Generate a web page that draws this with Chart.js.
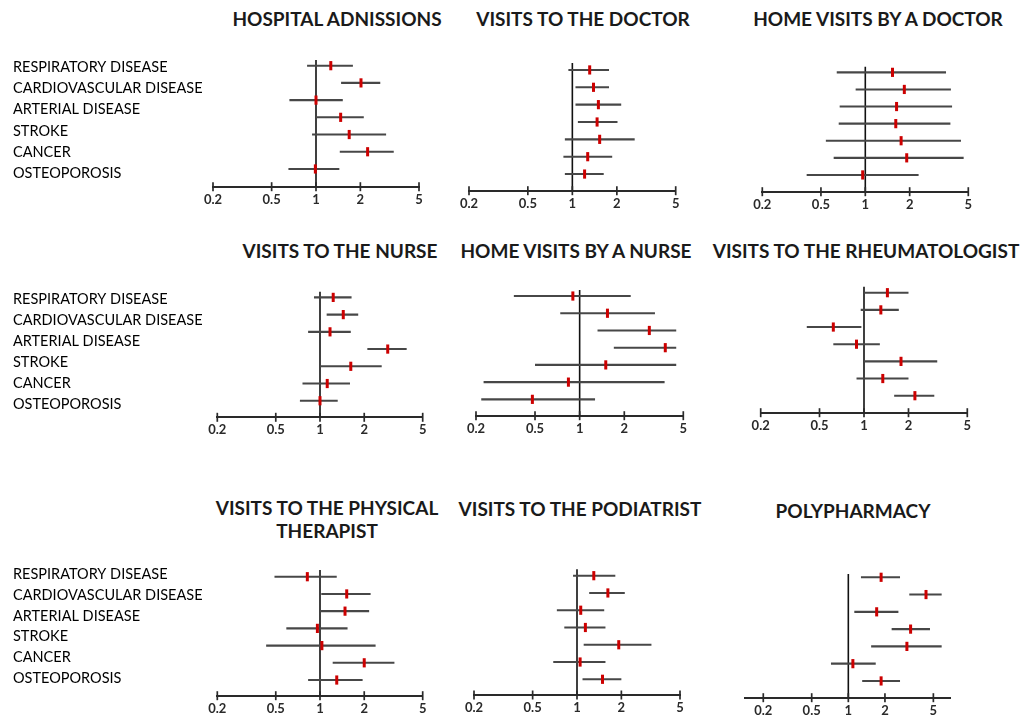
<!DOCTYPE html>
<html><head><meta charset="utf-8">
<script src="https://cdn.jsdelivr.net/npm/chart.js@4/dist/chart.umd.min.js"></script>
<style>
html,body{margin:0;padding:0;background:#fff;}
body{width:1024px;height:716px;position:relative;overflow:hidden;}
.t{position:absolute;width:360px;text-align:center;font-family:Lato,sans-serif;font-weight:bold;font-size:19px;color:#1a1a1a;line-height:23px;white-space:nowrap;}
canvas{position:absolute;}
</style></head><body>
<script>
// ---- categories / ticks / titles ----
const rowLabels = ['RESPIRATORY DISEASE','CARDIOVASCULAR DISEASE','ARTERIAL DISEASE','STROKE','CANCER','OSTEOPOROSIS'];
const tickValues = [0.2, 0.5, 1, 2, 5];
const tickLabels = ['0.2','0.5','1','2','5'];
const panelTitles = ['HOSPITAL ADNISSIONS','VISITS TO THE DOCTOR','HOME VISITS BY A DOCTOR',
  'VISITS TO THE NURSE','HOME VISITS BY A NURSE','VISITS TO THE RHEUMATOLOGIST',
  'VISITS TO THE PHYSICAL<br>THERAPIST','VISITS TO THE PODIATRIST','POLYPHARMACY'];

// ---- series values (estimate, lower, upper) ----
const hospitalEst = [1.26, 2.02, 1.00, 1.47, 1.68, 2.24, 0.99];
const hospitalLo  = [0.87, 1.48, 0.66, 1.00, 0.94, 1.45, 0.65];
const hospitalHi  = [1.78, 2.73, 1.52, 2.11, 2.99, 3.37, 1.44];

const doctorEst = [1.31, 1.39, 1.50, 1.47, 1.53, 1.27, 1.21];
const doctorLo  = [0.94, 1.05, 1.05, 1.09, 0.89, 0.87, 0.89];
const doctorHi  = [1.77, 1.77, 2.14, 2.02, 2.64, 1.86, 1.63];

const homeDoctorEst = [1.53, 1.84, 1.63, 1.61, 1.75, 1.91, 0.96];
const homeDoctorLo  = [0.64, 0.86, 0.67, 0.66, 0.54, 0.61, 0.40];
const homeDoctorHi  = [3.53, 3.81, 3.88, 3.78, 4.46, 4.65, 2.30];

const nurseEst = [1.23, 1.44, 1.17, 2.89, 1.62, 1.12, 1.00];
const nurseLo  = [0.91, 1.11, 0.83, 2.10, 1.00, 0.76, 0.73];
const nurseHi  = [1.64, 1.82, 1.62, 3.89, 2.63, 1.60, 1.32];

const homeNurseEst = [0.90, 1.54, 2.95, 3.78, 1.50, 0.84, 0.48];
const homeNurseLo  = [0.36, 0.74, 1.32, 1.70, 0.50, 0.225, 0.217];
const homeNurseHi  = [2.21, 3.22, 4.48, 4.48, 4.48, 3.74, 1.27];

const rheumEst = [1.44, 1.30, 0.62, 0.89, 1.78, 1.34, 2.21];
const rheumLo  = [1.00, 0.95, 0.41, 0.62, 1.00, 0.89, 1.60];
const rheumHi  = [2.00, 1.72, 0.96, 1.28, 3.13, 2.00, 2.99];

const physioEst = [0.82, 1.52, 1.48, 0.96, 1.03, 2.00, 1.30];
const physioLo  = [0.49, 1.02, 1.00, 0.59, 0.43, 1.22, 0.83];
const physioHi  = [1.30, 2.21, 2.16, 1.54, 2.39, 3.21, 1.95];

const podiatristEst = [1.30, 1.62, 1.06, 1.14, 1.92, 1.05, 1.49];
const podiatristLo  = [0.94, 1.21, 0.73, 0.82, 1.11, 0.69, 1.09];
const podiatristHi  = [1.82, 2.11, 1.53, 1.56, 3.20, 1.56, 2.00];

const polyEst = [1.86, 4.35, 1.71, 3.25, 3.03, 1.09, 1.86];
const polyLo  = [1.27, 3.17, 1.12, 2.27, 1.54, 0.72, 1.30];
const polyHi  = [2.66, 5.85, 2.58, 4.69, 5.85, 1.68, 2.66];

const panelData = [
  [hospitalEst, hospitalLo, hospitalHi], [doctorEst, doctorLo, doctorHi], [homeDoctorEst, homeDoctorLo, homeDoctorHi],
  [nurseEst, nurseLo, nurseHi], [homeNurseEst, homeNurseLo, homeNurseHi], [rheumEst, rheumLo, rheumHi],
  [physioEst, physioLo, physioHi], [podiatristEst, podiatristLo, podiatristHi], [polyEst, polyLo, polyHi]
];

// ---- layout (plot-area boxes, y-extent, titles) ----
const layout = [
  {L:213,   R:419,   T:60,    B:186.7, ymin:0.67, ymax:8.03, xmin:0.2, xmax:5, labels:true, lo:-3,   tx:337, ty:18},
  {L:469,   R:675.7, T:63,    B:190.7, ymin:0.60, ymax:7.96, xmin:0.2, xmax:5, labels:false, tx:583, ty:18},
  {L:762.3, R:968.3, T:66.7,  B:191.7, ymin:0.67, ymax:7.98, xmin:0.2, xmax:5, labels:false, tx:878, ty:18},
  {L:217.3, R:422.7, T:291.7, B:417.3, ymin:0.67, ymax:7.96, xmin:0.2, xmax:5, labels:true, lo:-3,   tx:340, ty:250},
  {L:476,   R:683.3, T:290,   B:415.7, ymin:0.65, ymax:7.95, xmin:0.2, xmax:5, labels:false, tx:576, ty:250},
  {L:760.7, R:967.3, T:286.7, B:412.7, ymin:0.65, ymax:7.99, xmin:0.2, xmax:5, labels:false, tx:866, ty:250},
  {L:217.3, R:422.7, T:570,   B:695.7, ymin:0.61, ymax:7.91, xmin:0.2, xmax:5, labels:true, lo:-6.5, tx:327, ty:518.5},
  {L:474,   R:680,   T:569.3, B:695,   ymin:0.63, ymax:7.91, xmin:0.2, xmax:5, labels:false, tx:580, ty:508},
  {L:745,   R:950,   T:574,   B:697.7, ymin:0.81, ymax:7.97, xmin:0.1415, xmax:6.85, labels:false, tx:853, ty:510}
];

const AXIS_H = 22;

const crossTicks = {
  id: 'crossTicks',
  afterDraw(chart) {
    const s = chart.scales.x, c = chart.ctx;
    c.save();
    c.strokeStyle = '#2a2a2a';
    c.lineWidth = 1.7;
    s.ticks.forEach(t => {
      const px = s.getPixelForValue(t.value);
      c.beginPath();
      c.moveTo(px, s.top - 4.5);
      c.lineTo(px, s.top + 4.5);
      c.stroke();
    });
    c.restore();
  }
};

function makePanel(idx) {
  const lay = layout[idx];
  const [est, lo, hi] = panelData[idx];
  const cl = lay.labels ? 0 : Math.floor(lay.L) - 14;
  const ct = Math.floor(lay.T) - 10;
  const cw = Math.ceil(lay.R) + 14 - cl;
  const ch = Math.ceil(lay.B) + AXIS_H + 2 - ct;
  const cv = document.createElement('canvas');
  cv.width = cw; cv.height = ch;
  cv.style.left = cl + 'px'; cv.style.top = ct + 'px';
  cv.style.width = cw + 'px'; cv.style.height = ch + 'px';
  document.body.appendChild(cv);

  const datasets = [];
  datasets.push({
    data: est.map((v, k) => ({x: v, y: k + 1})),
    pointStyle: 'line', pointRotation: 90, pointRadius: 4.6, pointHoverRadius: 4.6,
    pointBorderWidth: 3, pointBorderColor: '#cc0000', pointBackgroundColor: '#cc0000',
    showLine: false, clip: false, xAxisID: 'x', yAxisID: 'y'
  });
  lo.forEach((v, k) => {
    datasets.push({
      data: [{x: v, y: k + 1}, {x: hi[k], y: k + 1}],
      showLine: true, borderColor: '#474747', borderWidth: 2.1,
      pointRadius: 0, pointHoverRadius: 0, clip: false, xAxisID: 'x', yAxisID: 'y'
    });
  });
  datasets.push({
    data: [{x: 1, y: lay.ymin}, {x: 1, y: lay.ymax}],
    showLine: true, borderColor: '#111', borderWidth: 1.6,
    pointRadius: 0, pointHoverRadius: 0, clip: false, xAxisID: 'x', yAxisID: 'y'
  });

  const scales = {
    x: {
      type: 'logarithmic', position: 'bottom', min: lay.xmin, max: lay.xmax,
      afterBuildTicks: s => { s.ticks = tickValues.map(v => ({value: v})); },
      afterFit: s => { s.height = AXIS_H; },
      grid: {display: false, drawTicks: true, tickLength: 4},
      border: {display: true, color: '#2a2a2a', width: 2},
      ticks: {
        autoSkip: false, maxRotation: 0, padding: 1, color: '#2a2a2a',
        font: {family: 'Lato', size: 13, weight: 'bold'},
        callback: (v, i) => tickLabels[i]
      }
    },
    y: {type: 'linear', min: lay.ymin, max: lay.ymax, reverse: true, display: false}
  };
  if (lay.labels) {
    scales.yl = {
      type: 'category', labels: rowLabels, offset: true, position: 'left',
      grid: {display: false, drawTicks: false}, border: {display: false},
      afterFit: s => { s.width = lay.L - 13; },
      ticks: {crossAlign: 'far', padding: 0, labelOffset: lay.lo, color: '#000',
              font: {family: 'Lato', size: 14.5}}
    };
  }

  new Chart(cv, {
    type: 'scatter',
    data: {datasets},
    options: {
      responsive: false, animation: false, devicePixelRatio: 1,
      layout: {padding: {
        left: lay.labels ? 13 : lay.L - cl,
        right: cl + cw - lay.R,
        top: lay.T - ct,
        bottom: ct + ch - lay.B - AXIS_H
      }},
      plugins: {legend: {display: false}, tooltip: {enabled: false}},
      scales
    },
    plugins: [crossTicks]
  });

  const t = document.createElement('div');
  t.className = 't';
  t.innerHTML = panelTitles[idx];
  const lines = panelTitles[idx].split('<br>').length;
  t.style.left = (lay.tx - 180) + 'px';
  t.style.top = (lay.ty - lines * 11.5) + 'px';
  document.body.appendChild(t);
}

Promise.all([
  document.fonts.load('bold 13px Lato'),
  document.fonts.load('14.5px Lato'),
  document.fonts.load('bold 19px Lato')
]).catch(() => {}).then(() => {
  for (let i = 0; i < 9; i++) makePanel(i);
});
</script>
</body></html>
